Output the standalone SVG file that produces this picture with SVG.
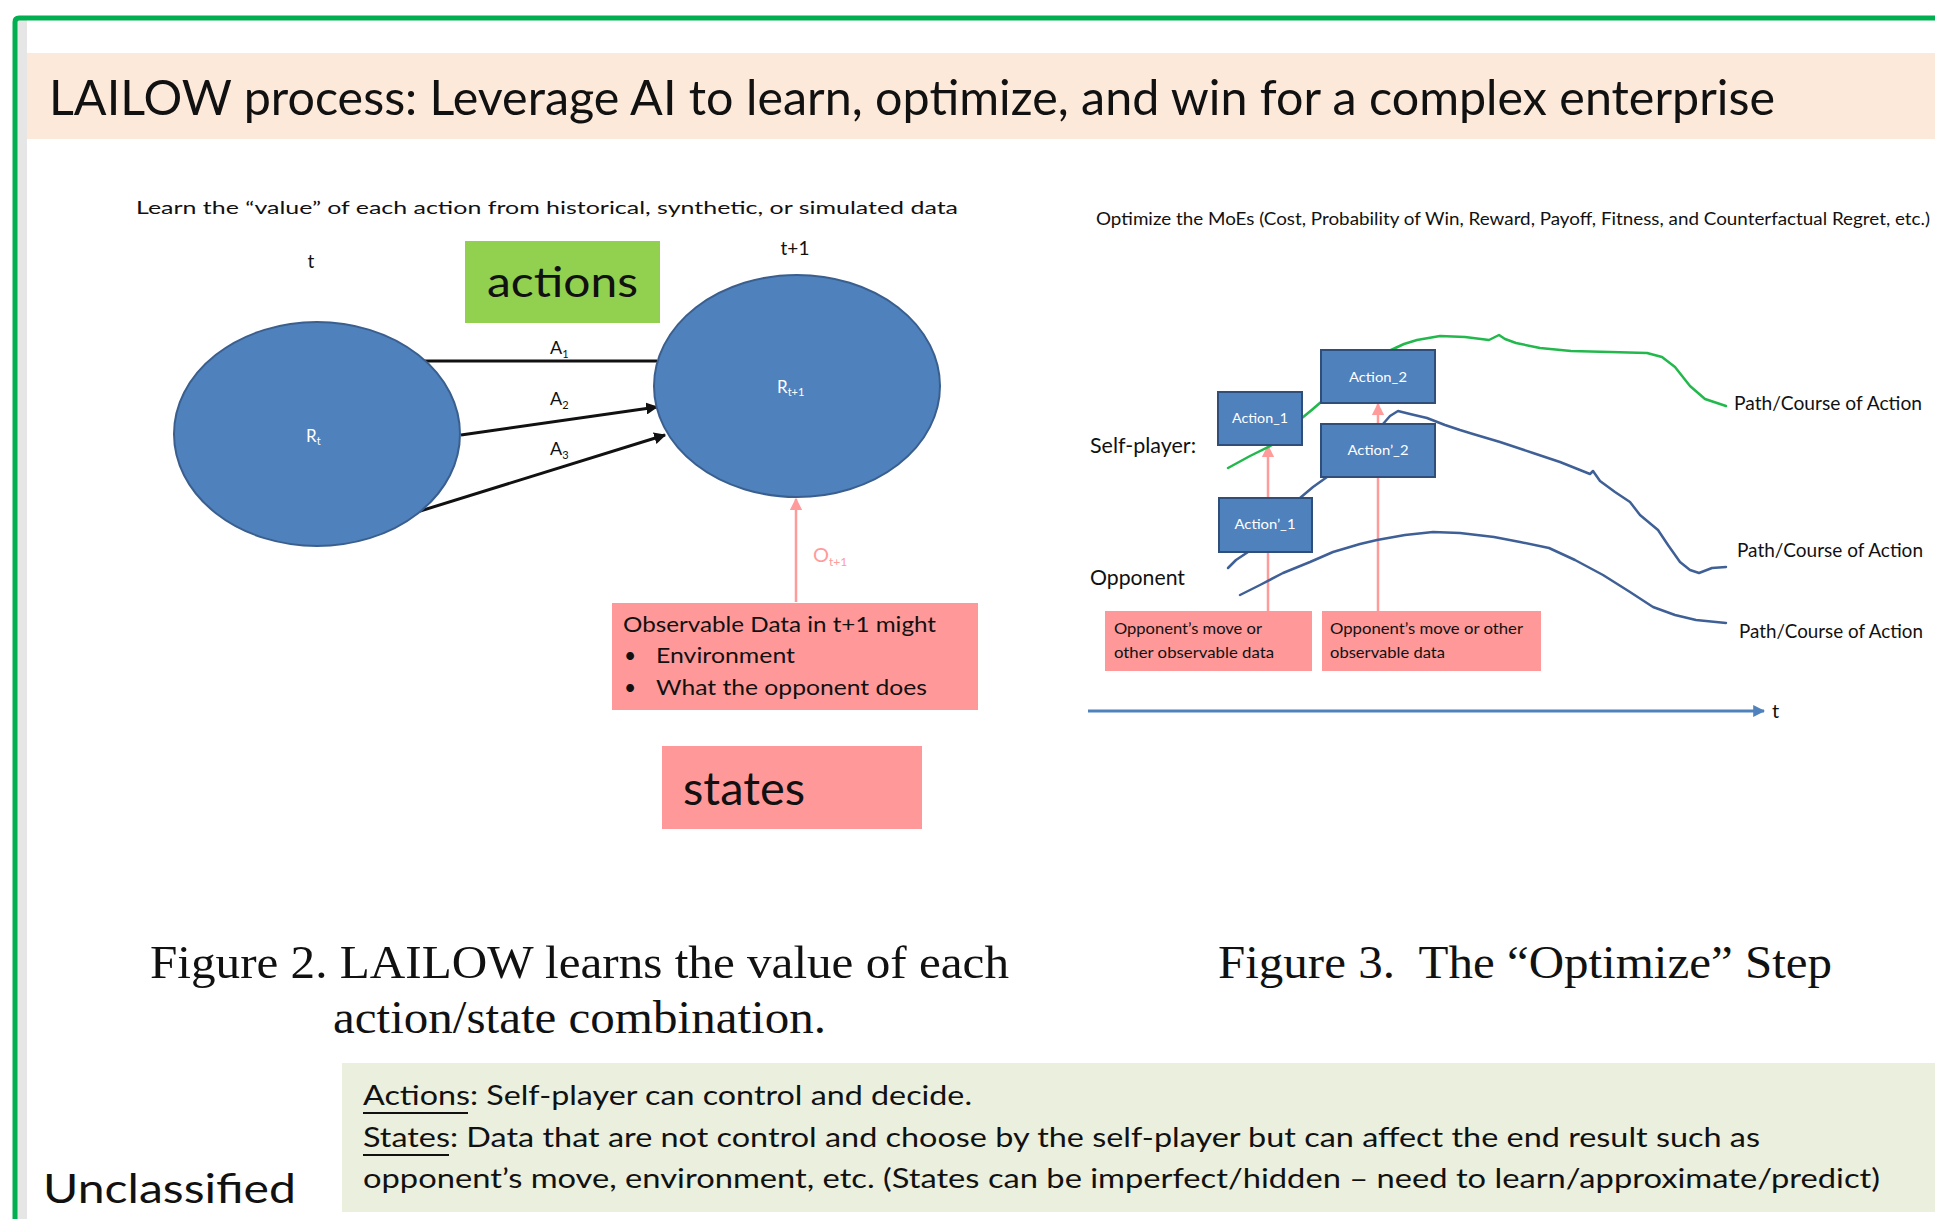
<svg xmlns="http://www.w3.org/2000/svg" width="1935" height="1219" viewBox="0 0 1935 1219">
<style>
.sans{font-family:Lato,"Open Sans","Liberation Sans",sans-serif;}
.serif{font-family:"Liberation Serif","Times New Roman",serif;}
.blk{fill:#111;}
.wht{fill:#fff;}
.ell{fill:#4F81BD;stroke:#3A5F8E;stroke-width:2;}
.abox{fill:#4F81BD;stroke:#2F4F7A;stroke-width:2;}
.pbox{fill:#FF9999;}
.conn{fill:none;stroke:#111;stroke-width:3;}
.pink{fill:none;stroke:#FF9B9B;stroke-width:2.5;}
.bpath{fill:none;stroke:#3F6096;stroke-width:2.5;stroke-linejoin:round;stroke-linecap:round;}
.gpath{fill:none;stroke:#22B84C;stroke-width:2.5;stroke-linejoin:round;stroke-linecap:round;}
</style>
<defs>
<marker id="ah" viewBox="0 0 10 10" refX="9" refY="5" markerWidth="4" markerHeight="4" orient="auto" markerUnits="strokeWidth"><path d="M0,0 L10,5 L0,10 z" fill="#111"/></marker>
<marker id="ph" viewBox="0 0 10 10" refX="9" refY="5" markerWidth="5" markerHeight="5" orient="auto" markerUnits="strokeWidth"><path d="M0,0 L10,5 L0,10 z" fill="#FF9B9B"/></marker>
<marker id="bh" viewBox="0 0 10 10" refX="9" refY="5" markerWidth="4" markerHeight="4" orient="auto" markerUnits="strokeWidth"><path d="M0,0 L10,5 L0,10 z" fill="#4F81BD"/></marker>
</defs>
<rect x="0" y="0" width="1935" height="1219" fill="#fff"/>
<!-- frame -->
<rect x="17" y="20" width="10" height="1199" fill="#E6E6E6"/>
<path d="M15,1219 L15,22 Q15,18 19,18 L1935,18" fill="none" stroke="#00B050" stroke-width="5"/>
<!-- title -->
<g id="title">
<rect x="27" y="53" width="1908" height="86" fill="#FCE9DA"/>
<text class="sans blk" x="49" y="115" font-size="49" textLength="1726" lengthAdjust="spacingAndGlyphs">LAILOW process: Leverage AI to learn, optimize, and win for a complex enterprise</text>
</g>
<!-- left figure -->
<g id="fig2-heading">
<text class="sans blk" x="136" y="214" font-size="18" textLength="822" lengthAdjust="spacingAndGlyphs">Learn the “value” of each action from historical, synthetic, or simulated data</text>
<text class="sans blk" x="311" y="268" font-size="19" text-anchor="middle">t</text>
<text class="sans blk" x="795" y="255" font-size="19" text-anchor="middle">t+1</text>
</g>
<g id="actions-label">
<rect x="465" y="241" width="195" height="82" fill="#92D050"/>
<text class="sans blk" x="487" y="297" font-size="43" textLength="151" lengthAdjust="spacingAndGlyphs">actions</text>
</g>
<g id="connectors">
<line class="conn" x1="424" y1="361" x2="657" y2="361"/>
<line class="conn" x1="461" y1="435" x2="657" y2="407" marker-end="url(#ah)"/>
<line class="conn" x1="417" y1="512" x2="665" y2="435" marker-end="url(#ah)"/>
<line class="pink" x1="796" y1="602" x2="796" y2="499" marker-end="url(#ph)"/>
<line class="pink" x1="1268" y1="611" x2="1268" y2="446" marker-end="url(#ph)"/>
<line class="pink" x1="1378" y1="611" x2="1378" y2="404" marker-end="url(#ph)"/>
<path class="gpath" d="M1228,468 L1250,456 L1272,445"/>
<path class="gpath" d="M1302,418 Q1312,410 1321,402"/>
<path class="gpath" d="M1391,350 L1404,344 L1417,340 L1440,336 L1465,337 L1489,340 L1495,337 L1499,335 L1505,339 L1516,343 L1540,348 L1571,351 L1610,352 L1647,353 L1662,357 L1675,367 L1690,386 L1705,399 L1726,406"/>
<path class="bpath" d="M1383,424 L1390,416 L1398,411 L1410,414 L1427,418 L1445,425 L1460,430 L1473,434 L1500,442 L1533,453 L1560,462 L1580,470 L1590,474 L1593,471 L1600,481 L1615,492 L1630,502 L1640,515 L1658,530 L1668,545 L1680,562 L1690,570 L1699,573 L1712,568 L1726,567"/>
<path class="bpath" d="M1300,498 L1313,487 L1327,477"/>
<path class="bpath" d="M1248,552 L1236,560 L1228,568"/>
<path class="bpath" d="M1240,595 L1260,585 L1283,573 L1310,562 L1333,552 L1360,544 L1377,540 L1405,535 L1433,532 L1460,533 L1494,537 L1520,542 L1549,548 L1575,560 L1603,575 L1630,592 L1653,607 L1675,615 L1696,620 L1726,623"/>
<line x1="1088" y1="711" x2="1764" y2="711" stroke="#4F81BD" stroke-width="3" marker-end="url(#bh)"/>
</g>
<g id="node-Rt">
<ellipse class="ell" cx="317" cy="434" rx="143" ry="112"/>
<text class="sans wht" x="306" y="442" font-size="17">R<tspan font-size="11" dy="3">t</tspan></text>
</g>
<g id="node-Rt1">
<ellipse class="ell" cx="797" cy="386" rx="143" ry="111"/>
<text class="sans wht" x="777" y="393" font-size="17">R<tspan font-size="11" dy="3">t+1</tspan></text>
</g>
<g id="edge-labels">
<text class="sans blk" x="550" y="354" font-size="18">A<tspan font-size="11" dy="4">1</tspan></text>
<text class="sans blk" x="550" y="405" font-size="18">A<tspan font-size="11" dy="4">2</tspan></text>
<text class="sans blk" x="550" y="455" font-size="18">A<tspan font-size="11" dy="4">3</tspan></text>
<text class="sans" x="813" y="562" font-size="20" fill="#FF9B9B">O<tspan font-size="12" dy="4">t+1</tspan></text>
</g>
<g id="observable-box">
<rect class="pbox" x="612" y="603" width="366" height="107"/>
<text class="sans blk" x="623" y="632" font-size="21" textLength="313" lengthAdjust="spacingAndGlyphs">Observable Data in t+1 might</text>
<text class="sans blk" x="624" y="663" font-size="21">•</text>
<text class="sans blk" x="656" y="663" font-size="21" textLength="139" lengthAdjust="spacingAndGlyphs">Environment</text>
<text class="sans blk" x="624" y="695" font-size="21">•</text>
<text class="sans blk" x="656" y="695" font-size="21" textLength="271" lengthAdjust="spacingAndGlyphs">What the opponent does</text>
</g>
<g id="states-label">
<rect class="pbox" x="662" y="746" width="260" height="83"/>
<text class="sans blk" x="683" y="805" font-size="47" textLength="122" lengthAdjust="spacingAndGlyphs">states</text>
</g>
<!-- right figure -->
<g id="fig3-heading">
<text class="sans blk" x="1096" y="225" font-size="18" textLength="834" lengthAdjust="spacingAndGlyphs">Optimize the MoEs (Cost, Probability of Win, Reward, Payoff, Fitness, and Counterfactual Regret, etc.)</text>
<text class="sans blk" x="1090" y="453" font-size="21" textLength="106" lengthAdjust="spacingAndGlyphs">Self-player:</text>
<text class="sans blk" x="1090" y="585" font-size="21" textLength="95" lengthAdjust="spacingAndGlyphs">Opponent</text>
</g>
<g id="action2">
<rect class="abox" x="1321" y="350" width="114" height="53"/>
<text class="sans wht" x="1378" y="382" font-size="14" text-anchor="middle" textLength="58" lengthAdjust="spacingAndGlyphs">Action_2</text>
</g>
<g id="action1">
<rect class="abox" x="1218" y="392" width="84" height="53"/>
<text class="sans wht" x="1260" y="423" font-size="14" text-anchor="middle" textLength="56" lengthAdjust="spacingAndGlyphs">Action_1</text>
</g>
<g id="action2p">
<rect class="abox" x="1321" y="424" width="114" height="53"/>
<text class="sans wht" x="1378" y="455" font-size="14" text-anchor="middle" textLength="61" lengthAdjust="spacingAndGlyphs">Action’_2</text>
</g>
<g id="action1p">
<rect class="abox" x="1219" y="498" width="93" height="54"/>
<text class="sans wht" x="1265" y="529" font-size="14" text-anchor="middle" textLength="61" lengthAdjust="spacingAndGlyphs">Action’_1</text>
</g>
<g id="opp-box1">
<rect class="pbox" x="1105" y="611" width="207" height="60"/>
<text class="sans blk" x="1114" y="634" font-size="16" textLength="148" lengthAdjust="spacingAndGlyphs">Opponent’s move or</text>
<text class="sans blk" x="1114" y="658" font-size="16" textLength="160" lengthAdjust="spacingAndGlyphs">other observable data</text>
</g>
<g id="opp-box2">
<rect class="pbox" x="1322" y="611" width="219" height="60"/>
<text class="sans blk" x="1330" y="634" font-size="16" textLength="193" lengthAdjust="spacingAndGlyphs">Opponent’s move or other</text>
<text class="sans blk" x="1330" y="658" font-size="16" textLength="115" lengthAdjust="spacingAndGlyphs">observable data</text>
</g>
<g id="path-labels">
<text class="sans blk" x="1734" y="410" font-size="20" textLength="188" lengthAdjust="spacingAndGlyphs">Path/Course of Action</text>
<text class="sans blk" x="1737" y="557" font-size="20" textLength="186" lengthAdjust="spacingAndGlyphs">Path/Course of Action</text>
<text class="sans blk" x="1739" y="638" font-size="20" textLength="184" lengthAdjust="spacingAndGlyphs">Path/Course of Action</text>
<text class="sans blk" x="1772" y="718" font-size="20">t</text>
</g>
<!-- captions -->
<g id="captions">
<text class="serif blk" x="150" y="978" font-size="47" textLength="859" lengthAdjust="spacingAndGlyphs">Figure 2. LAILOW learns the value of each</text>
<text class="serif blk" x="333" y="1033" font-size="47" textLength="493" lengthAdjust="spacingAndGlyphs">action/state combination.</text>
<text class="serif blk" x="1218" y="978" font-size="47" textLength="614" lengthAdjust="spacingAndGlyphs" xml:space="preserve">Figure 3.  The “Optimize” Step</text>
</g>
<g id="definitions">
<rect x="342" y="1063" width="1593" height="149" fill="#EBEFDE"/>
<text class="sans blk" x="363" y="1105" font-size="27" textLength="609" lengthAdjust="spacingAndGlyphs">Actions: Self-player can control and decide.</text>
<line x1="363" y1="1113" x2="468" y2="1113" stroke="#111" stroke-width="2"/>
<text class="sans blk" x="363" y="1147" font-size="27" textLength="1397" lengthAdjust="spacingAndGlyphs">States: Data that are not control and choose by the self-player but can affect the end result such as</text>
<line x1="363" y1="1155" x2="449" y2="1155" stroke="#111" stroke-width="2"/>
<text class="sans blk" x="363" y="1188" font-size="27" textLength="1517" lengthAdjust="spacingAndGlyphs">opponent’s move, environment, etc. (States can be imperfect/hidden – need to learn/approximate/predict)</text>
</g>
<g id="classification">
<text class="sans blk" x="43" y="1203" font-size="40" textLength="253" lengthAdjust="spacingAndGlyphs">Unclassified</text>
</g>
</svg>
